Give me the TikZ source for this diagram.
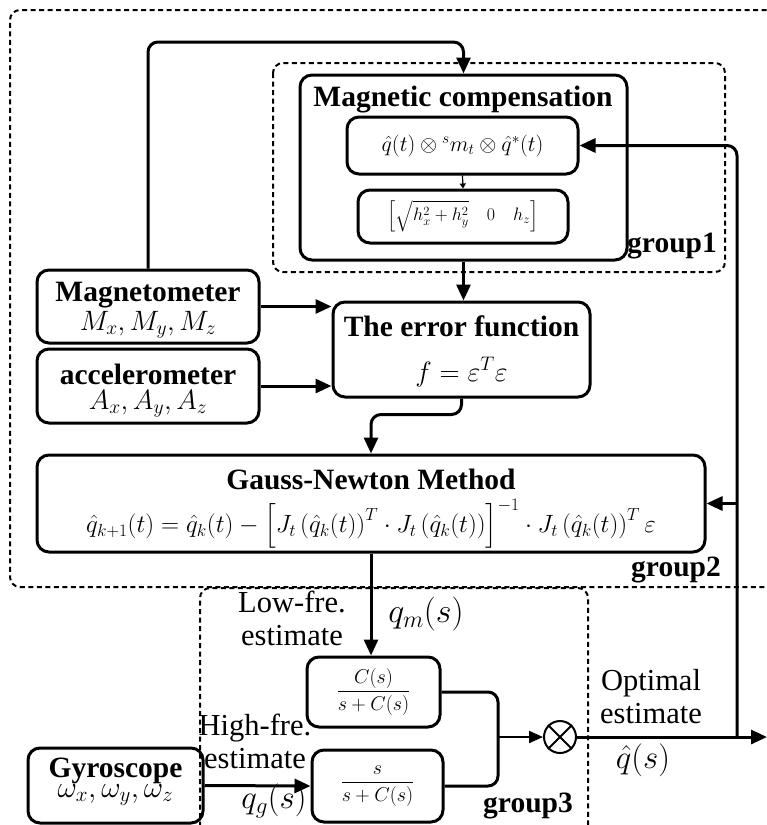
\RequirePackage{fix-cm}
\documentclass[tikz,border=0pt]{standalone}
\usepackage{amsmath}
\usepackage{fontspec}
\setmainfont{Liberation Serif}
\usetikzlibrary{arrows.meta,positioning,calc}

\begin{document}
\begin{tikzpicture}[x=1pt,y=-1pt,
  box/.style={draw,line width=3pt,rounded corners=12pt,align=center,inner sep=0pt},
  ttl/.style={font=\fontsize{29.5}{31}\selectfont\bfseries,align=center},
  txt/.style={font=\fontsize{30.5}{33}\selectfont,align=center},
  grp/.style={line width=2pt,dash pattern=on 5pt off 3.5pt,rounded corners=10pt},
  f/.style={-{Triangle[length=16pt,width=14pt]},line width=3pt,rounded corners=10pt}]
\useasboundingbox (0,0) rectangle (767,825);
% dashed groups
\draw[grp] (775,10) -- (10,10) -- (10,587) -- (775,587);
\draw[grp] (273,63) rectangle (725,272);
\draw[grp] (200,835) -- (200,588) -- (588,588) -- (588,835);
% magnetic compensation
\node[box,minimum width=327,minimum height=185] (magcomp) at (463.5,167.5) {};
\node[ttl] (magtitle) at (463,100) {Magnetic compensation};
\node[box,minimum width=231,minimum height=57,font=\fontsize{22}{24}\selectfont] (qbox) at (462.5,145.5)
  {$\hat{q}(t)\otimes{}^{s}m_{t}\otimes\hat{q}^{*}(t)$};
\node[box,minimum width=210,minimum height=53,font=\fontsize{18}{20}\selectfont] (hbox) at (463,216.5)
  {$\left[\sqrt{h_x^2+h_y^2}\quad 0\quad h_z\right]$};
% sensors
\node[box,minimum width=222,minimum height=73] (magnet) at (148,306.5) {};
\node[ttl] (magname) at (148,295) {Magnetometer};
\node[font=\fontsize{28}{30}\selectfont] (magvar) at (148,325) {$M_x,M_y,M_z$};
\node[box,minimum width=222,minimum height=74] (accel) at (148,386) {};
\node[ttl] (accname) at (148,374) {accelerometer};
\node[font=\fontsize{28}{30}\selectfont] (accvar) at (148,404) {$A_x,A_y,A_z$};
% error function
\node[box,minimum width=257,minimum height=95] (errfn) at (461.5,349.5) {};
\node[ttl] (errname) at (461.5,326) {The error function};
\node[font=\fontsize{28}{30}\selectfont] (errvar) at (461.5,372) {$f=\varepsilon^{T}\varepsilon$};
% gauss-newton
\node[box,minimum width=668,minimum height=97] (gn) at (371,503.5) {};
\node[ttl] (gnname) at (371,479) {Gauss-Newton Method};
\node[font=\fontsize{25}{27}\selectfont] (gnvar) at (371,524)
  {$\hat{q}_{k+1}(t)=\hat{q}_{k}(t)-\left[J_t\left(\hat{q}_k(t)\right)^{T}\cdot J_t\left(\hat{q}_k(t)\right)\right]^{-1}\cdot J_t\left(\hat{q}_k(t)\right)^{T}\varepsilon$};
% complementary filter
\node[box,minimum width=133,minimum height=70,font=\fontsize{20}{22}\selectfont] (lowpass) at (373.5,692) {$\dfrac{C(s)}{s+C(s)}$};
\node[box,minimum width=131,minimum height=72,font=\fontsize{20}{22}\selectfont] (highpass) at (377.5,786) {$\dfrac{s}{s+C(s)}$};
\node[box,minimum width=175,minimum height=75] (gyro) at (115.5,785.5) {};
\node[ttl] (gyroname) at (115.5,771) {Gyroscope};
\node[font=\fontsize{30}{32}\selectfont] (gyrovar) at (115.5,795) {$\omega_x,\omega_y,\omega_z$};
\node[circle,draw,line width=2pt,minimum size=32,inner sep=0pt] (mult) at (560,737) {};
\draw[line width=2pt] (mult.45) -- (mult.225) (mult.135) -- (mult.315);
% labels
\node[txt] (lowlab) at (292,618) {Low-fre.\\estimate};
\node[font=\fontsize{34}{36}\selectfont] (qm) at (426,614) {$q_m(s)$};
\node[txt] (highlab) at (255,741) {High-fre.\\estimate};
\node[font=\fontsize{33}{35}\selectfont] (qg) at (274,801) {$q_g(s)$};
\node[txt] (optlab) at (651,697) {Optimal\\estimate};
\node[font=\fontsize{33}{35}\selectfont] (qhat) at (643,760) {$\hat{q}(s)$};
\node[ttl] (g1) at (672,246) {group1};
\node[ttl] (g2) at (676,570) {group2};
\node[ttl] (g3) at (528,806) {group3};
% connectors
\coordinate (top) at (300,42);
\coordinate (mix) at (498,737);
\coordinate (split) at (737,737);
\coordinate (outend) at (767,737);
\draw[f] (magnet.north) |- (top) -| (magcomp.north);
\draw[-{Triangle[length=5pt,width=6pt]},line width=1.2pt] (qbox.south) -- (hbox.north);
\draw[f] (magcomp.south) -- (magcomp.south |- errfn.north);
\draw[f] (magnet.east) -- (errfn.west |- magnet.east);
\draw[f] (accel.east) -- (errfn.west |- accel.east);
\draw[f] (errfn.south) -- ++(0,16) -| (gn.north);
\draw[f] (gn.south) -- (gn.south |- lowpass.north);
\draw[f] (gyro.east) -- (highpass.west);
\draw[line width=3pt,rounded corners=10pt] (lowpass.east) -| (mix) |- (highpass.east);
\draw[-{Triangle[length=14pt,width=12pt]},line width=2pt] (mix) -- (mult.west);
\draw[f] (mult.east) -- (outend);
\draw[f] (split) |- (qbox.east);
\draw[f] (split |- gn.east) -- (gn.east);
\end{tikzpicture}
\end{document}
